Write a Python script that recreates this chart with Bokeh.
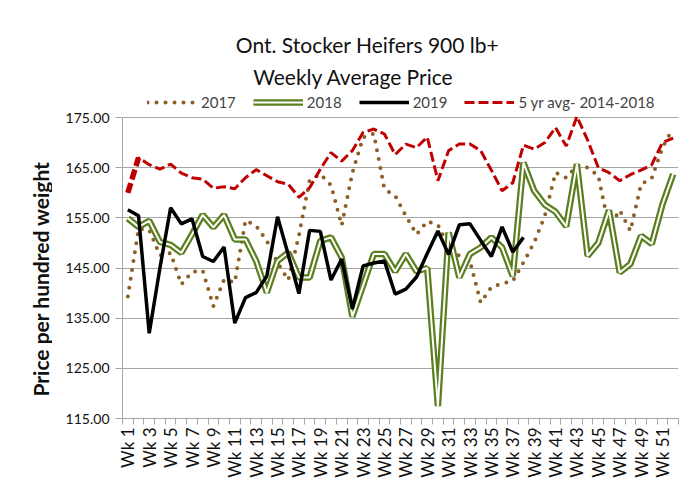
from bokeh.plotting import figure
from bokeh.layouts import row
from bokeh.models import (FixedTicker, Legend, LegendItem, Label, NumeralTickFormatter, Range1d)
from bokeh.embed import file_html
from bokeh.resources import INLINE

weeks = list(range(1, 53))
week_labels = {w: f"Wk {w}" for w in weeks}
label_weeks = weeks[::2]
y_ticks = [115, 125, 135, 145, 155, 165, 175]
title_lines = ["Ont. Stocker Heifers 900 lb+", "Weekly Average Price"]
y_label = "Price per hundred weight"

y2017 = [139.3, 152.8, 152.6, 147.5, 148.0, 141.7, 144.2, 144.5, 137.4, 142.7,
         142.1, 154.5, 153.4, 150.4, 146.1, 142.6, 151.5, 162.5, 163.7, 161.5,
         153.5, 164.0, 171.0, 171.8, 160.7, 159.4, 155.4, 151.7, 154.3, 153.6,
         149.3, 147.4, 146.3, 138.1, 141.2, 141.9, 142.4, 146.1, 150.1, 155.4,
         164.0, 163.0, 165.4, 165.0, 163.4, 153.1, 156.5, 152.4, 161.7, 162.9,
         169.0, 172.9]
y2018 = [154.9, 153.2, 154.4, 150.2, 149.6, 148.0, 151.7, 155.6, 153.1, 155.6,
         150.7, 150.7, 146.4, 140.1, 146.4, 148.1, 143.1, 143.1, 150.4, 151.1,
         147.1, 135.3, 141.5, 147.8, 147.8, 144.3, 147.8, 144.3, 145.0, 117.5,
         152.1, 143.1, 147.8, 149.1, 151.1, 149.1, 143.4, 166.0, 160.4, 157.6,
         156.2, 153.3, 165.7, 147.4, 150.0, 156.5, 144.1, 145.8, 151.4, 149.8,
         157.7, 163.7]
y2019 = [156.6, 155.4, 132.0, 145.0, 157.0, 153.8, 154.8, 147.3, 146.3, 149.2,
         134.0, 139.1, 140.1, 143.4, 155.2, 147.7, 139.9, 152.5, 152.3, 142.6,
         146.8, 136.8, 145.4, 146.0, 146.4, 139.8, 140.8, 143.2, 147.9, 152.4,
         147.7, 153.6, 153.8, 150.5, 147.3, 153.2, 148.2, 151.1]
avg5 = [160.0, 167.0, 165.6, 164.7, 165.7, 163.9, 163.0, 162.7, 160.9, 161.2,
        160.8, 163.0, 164.6, 163.4, 162.2, 161.7, 159.1, 161.0, 164.7, 168.0,
        166.3, 168.4, 172.0, 172.7, 171.7, 167.6, 169.7, 169.0, 171.1, 162.4,
        168.4, 169.7, 169.7, 168.4, 164.5, 160.4, 162.0, 169.5, 168.7, 170.0,
        173.0, 169.3, 175.2, 170.5, 165.0, 164.0, 162.4, 163.6, 164.5, 165.6,
        170.0, 170.9]

FONT = "Lato"
BROWN = "#8c5f26"
GREEN = "#5b7f1f"
RED = "#c00000"
GRID = "#a6a6a6"
TXT = "#111111"

LEFT_W = 52
W, H = 692, 494

# narrow strip holding the vertical axis title
side = figure(width=LEFT_W, height=H, output_backend="svg", toolbar_location=None,
              x_range=Range1d(0, LEFT_W), y_range=Range1d(0, H),
              min_border=0, x_axis_type=None, y_axis_type=None)
side.outline_line_color = None
side.grid.visible = False
side.add_layout(Label(x=40, y=165, text=y_label, angle=1.5708,
                      text_align="center", text_baseline="middle",
                      text_font=FONT, text_font_size="21px",
                      text_font_style="bold", text_color=TXT))

# main chart: frame spans the whole height above the x axis; header lives inside it
y_min, y_max = y_ticks[0], y_ticks[-1]
px_per_unit = 301 / (y_max - y_min)
y_top = y_max + 117 / px_per_unit

p = figure(width=W - LEFT_W, height=H, output_backend="svg", toolbar_location=None,
           x_range=Range1d(0.5, 52.5), y_range=Range1d(y_min, y_top),
           min_border_left=122 - LEFT_W, min_border_right=14, min_border_top=0,
           min_border_bottom=76)
p.outline_line_color = None

r17 = p.line(weeks, y2017, line_color=BROWN, line_width=4, line_dash="0 9",
             line_cap="round")
r18a = p.line(weeks, y2018, line_color=GREEN, line_width=6.5)
r18b = p.line(weeks, y2018, line_color="white", line_width=2)
r19 = p.line(weeks[:len(y2019)], y2019, line_color="black", line_width=3.5)
r5 = p.line(weeks, avg5, line_color=RED, line_width=3, line_dash="10 4")
p.line(weeks[:2], avg5[:2], line_color=RED, line_width=5.5, line_dash="10 4")

# y axis
p.yaxis.ticker = FixedTicker(ticks=y_ticks)
p.yaxis.bounds = (y_min, y_max)
p.yaxis.formatter = NumeralTickFormatter(format="0.00")
p.yaxis.major_label_text_font = FONT
p.yaxis.major_label_text_font_size = "14px"
p.yaxis.major_label_text_color = TXT
p.yaxis.major_label_standoff = 6
p.yaxis.axis_line_color = GRID
p.yaxis.major_tick_line_color = GRID
p.yaxis.major_tick_out = 7
p.yaxis.major_tick_in = 0
p.yaxis.minor_tick_line_color = None

# x axis
p.xaxis.ticker = FixedTicker(ticks=label_weeks,
                             minor_ticks=[w - 0.5 for w in weeks] + [weeks[-1] + 0.5])
p.xaxis.major_label_overrides = {w: week_labels[w] for w in label_weeks}
p.xaxis.major_label_orientation = 1.5708
p.xaxis.major_label_text_font = FONT
p.xaxis.major_label_text_font_size = "17px"
p.xaxis.major_label_text_color = TXT
p.xaxis.major_tick_line_color = None
p.xaxis.major_tick_out = 6
p.xaxis.minor_tick_line_color = GRID
p.xaxis.minor_tick_out = 6
p.xaxis.minor_tick_in = 0
p.xaxis.axis_line_color = GRID
p.xaxis.major_label_standoff = 3

p.xgrid.visible = False
p.ygrid.grid_line_color = GRID
p.ygrid.grid_line_width = 1

legend = Legend(items=[
    LegendItem(label="2017", renderers=[r17]),
    LegendItem(label="2018", renderers=[r18a, r18b]),
    LegendItem(label="2019", renderers=[r19]),
    LegendItem(label="5 yr avg- 2014-2018", renderers=[r5]),
], orientation="horizontal", location=(25, 307), border_line_color=None,
    background_fill_alpha=0, glyph_width=50, glyph_height=16,
    label_text_font=FONT, label_text_font_size="15px", label_standoff=4,
    spacing=17, padding=0, margin=0)
p.add_layout(legend, "center")

for txt, cx, cy in [(title_lines[0], 245, 374), (title_lines[1], 231, 342)]:
    p.add_layout(Label(x=cx, y=cy, x_units="screen", y_units="screen", text=txt,
                       text_align="center", text_baseline="middle",
                       text_font=FONT, text_font_size="21px", text_color=TXT))

layout = row(side, p, spacing=0)
open("out.html", "w").write(file_html(layout, INLINE))
